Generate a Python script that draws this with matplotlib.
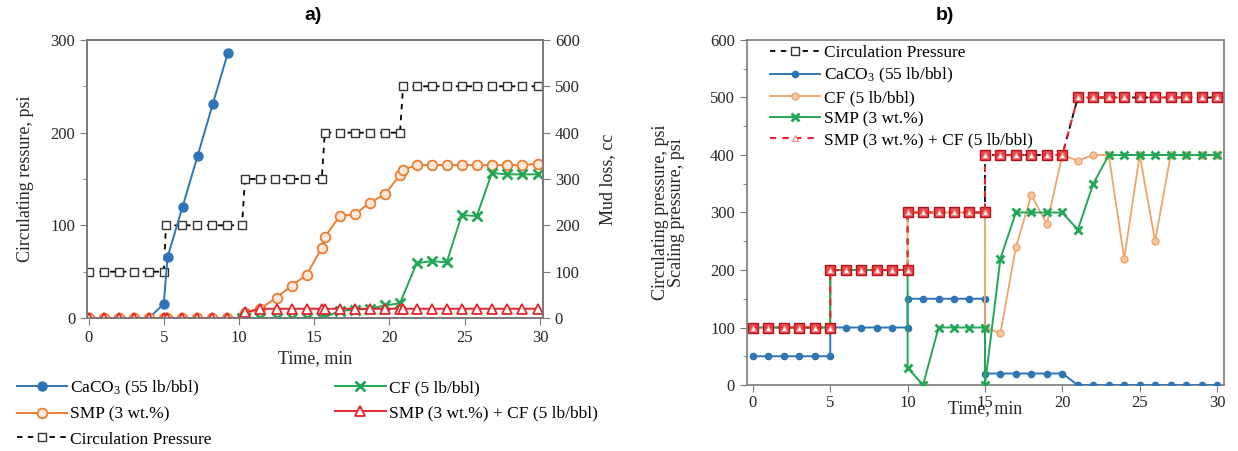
import matplotlib.pyplot as plt
from matplotlib.ticker import MultipleLocator

plt.rcParams['font.family'] = ['Liberation Serif', 'DejaVu Serif']
plt.rcParams['mathtext.fontset'] = 'custom'
plt.rcParams['mathtext.rm'] = 'Liberation Serif'

# ---------------- panel a) data ----------------
# circulation pressure, psi (left axis)
t_circ_a = [0, 1, 2, 3, 4, 5, 5.15, 6.2, 7.2, 8.2, 9.2, 10.2, 10.4, 11.4, 12.4, 13.4, 14.4, 15.5,
            15.7, 16.7, 17.7, 18.7, 19.7, 20.7, 20.9, 21.8, 22.8, 23.8, 24.8, 25.8, 26.8, 27.8, 28.8, 29.9]
p_circ_a = [50] * 6 + [100] * 6 + [150] * 6 + [200] * 6 + [250] * 10

# mud loss, cc (right axis)
t_caco3_a = [0, 1, 2, 3, 4, 5.0, 5.25, 6.25, 7.25, 8.25, 9.25]
loss_caco3_a = [0, 0, 0, 0, 0, 30, 131, 240, 350, 461, 571]

t_grid_a = [0, 1, 2, 3, 4, 5, 5.2, 6.2, 7.2, 8.2, 9.2, 10.2, 10.4, 11.4, 12.5, 13.5, 14.5, 15.5,
            15.7, 16.7, 17.7, 18.7, 19.7, 20.7, 20.9, 21.8, 22.8, 23.8, 24.8, 25.8, 26.8, 27.8, 28.8, 29.9]
loss_smp_a = [0] * 12 + [10, 20, 44, 70, 93, 152, 175, 220, 224, 249, 267, 309, 320] + [330] * 8 + [333]
loss_mix_a = [0] * 12 + [12] + [20] * 21

t_cf_a = [10.2, 10.4, 11.4, 12.5, 13.5, 14.5, 15.5, 15.7, 16.7, 17.7, 18.7, 19.7, 20.7,
          21.8, 22.8, 23.8, 24.8, 25.8, 26.8, 27.8, 28.8, 29.9]
loss_cf_a = [0, 0, 0, 0, 0, 0, 0, 2, 15, 18, 20, 27, 32, 118, 123, 120, 222, 220, 313, 310, 310, 310]

# ---------------- panel b) data ----------------
t_b = [0, 1, 2, 3, 4, 5, 5, 6, 7, 8, 9, 10, 10, 11, 12, 13, 14, 15, 15, 16, 17, 18, 19, 20,
       21, 22, 23, 24, 25, 26, 27, 28, 29, 30]
p_circ_b = [100] * 6 + [200] * 6 + [300] * 6 + [400] * 6 + [500] * 10
p_mix_b = [100] * 6 + [200] * 6 + [300] * 6 + [400] * 6 + [500] * 10
p_caco3_b = [50] * 6 + [100] * 6 + [150] * 6 + [20] * 6 + [0] * 10

t_cf_b = [0, 1, 2, 3, 4, 5, 5, 6, 7, 8, 9, 10, 10, 11, 12, 13, 14, 15, 15, 16, 17, 18, 19, 20,
          21, 22, 23, 24, 25, 26, 27, 28, 29, 30]
p_cf_b = [100] * 6 + [200] * 6 + [300] * 6 + [100, 90, 240, 330, 280, 400, 390, 400, 400, 220,
                                               400, 250, 400, 400, 400, 400]

t_smp_b = [0, 1, 2, 3, 4, 5, 5, 6, 7, 8, 9, 10, 10, 11, 12, 13, 14, 15, 15, 16, 17, 18, 19, 20,
           21, 22, 23, 24, 25, 26, 27, 28, 29, 30]
p_smp_b = [100] * 6 + [200] * 6 + [30, 0, 100, 100, 100, 100, 0, 220, 300, 300, 300, 300,
                                   270, 350] + [400] * 8

BLUE = '#2e75b6'
ORANGE = '#ed7d31'
GREEN = '#23a656'
RED = '#e3262b'
SPINE = '#7a7a7a'
TXT = '#262626'

lab_caco3 = r'CaCO$\mathregular{_3}$ (55 lb/bbl)'

fig = plt.figure(figsize=(12.38, 4.51), dpi=100)

# ================= a) =================
ax_a = fig.add_axes([87 / 1238, 1 - 318 / 451, 456 / 1238, 278 / 451])
ax_m = ax_a.twinx()

l_circ, = ax_a.plot(t_circ_a, p_circ_a, color='black', ls=(0, (3, 3)), lw=1.3, marker='s', ms=6,
                    mfc='white', mec='#333333', mew=1.0, label='Circulation Pressure')

l_caco3, = ax_m.plot(t_caco3_a, loss_caco3_a, color=BLUE, lw=1.4, marker='o', ms=6.5,
                     label=lab_caco3)
l_smp, = ax_m.plot(t_grid_a, loss_smp_a, color=ORANGE, lw=1.4, marker='o', ms=7,
                   mfc='#fde9d9', mec=ORANGE, mew=1.3, label='SMP (3 wt.%)')
l_cf, = ax_m.plot(t_cf_a, loss_cf_a, color=GREEN, lw=1.4, marker='x', ms=7, mew=2.0,
                  label='CF (5 lb/bbl)')
l_mix, = ax_m.plot(t_grid_a, loss_mix_a, color=RED, lw=1.4, marker='^', ms=6.5,
                   mfc='white', mec=RED, mew=1.3, label='SMP (3 wt.%) + CF (5 lb/bbl)')

ax_a.set_xlim(-0.1, 30.2)
ax_a.set_ylim(0, 300)
ax_m.set_ylim(0, 600)
ax_a.xaxis.set_major_locator(MultipleLocator(5))
ax_a.yaxis.set_major_locator(MultipleLocator(100))
ax_a.yaxis.set_minor_locator(MultipleLocator(50))
ax_m.yaxis.set_major_locator(MultipleLocator(100))

for ax in (ax_a, ax_m):
    for s in ax.spines.values():
        s.set_color(SPINE)
        s.set_linewidth(1.2)
    ax.tick_params(which='both', direction='out', colors=SPINE, labelcolor=TXT, labelsize=12)
    ax.tick_params(which='major', length=5)
    ax.tick_params(which='minor', length=3)

ax_a.set_xlabel('Time, min', fontsize=13, color=TXT, labelpad=3)
ax_a.set_ylabel('Circulating ressure, psi', fontsize=13, color=TXT, labelpad=12)
ax_m.set_ylabel('Mud loss, cc', fontsize=13, color=TXT, labelpad=14)

fig.text(313 / 1238, 1 - 16 / 451, 'a)', family='Liberation Sans', weight='bold', fontsize=14,
         ha='center', va='center')

fig.legend([l_caco3, l_smp, l_circ, l_cf, l_mix],
           [lab_caco3, 'SMP (3 wt.%)', 'Circulation Pressure', 'CF (5 lb/bbl)',
            'SMP (3 wt.%) + CF (5 lb/bbl)'],
           ncol=2, loc='upper left', bbox_to_anchor=(8 / 1238, 1 - 370 / 451),
           frameon=False, fontsize=12.5, handlelength=2.9, handletextpad=0.2,
           labelspacing=0.5, columnspacing=7.1, borderpad=0)

# ================= b) =================
ax_b = fig.add_axes([746.7 / 1238, 1 - 385 / 451, 477.3 / 1238, 345 / 451])

b_circ, = ax_b.plot(t_b, p_circ_b, color='black', ls=(0, (3, 3)), lw=1.3, marker='s', ms=6,
                    mfc='white', mec='#333333', mew=1.0, label='Circulation Pressure', zorder=2)
b_caco3, = ax_b.plot(t_b, p_caco3_b, color=BLUE, lw=1.4, marker='o', ms=4.5, label=lab_caco3,
                     zorder=3)
b_cf, = ax_b.plot(t_cf_b, p_cf_b, color='#f0a36a', lw=1.3, marker='o', ms=5, mfc='#f7c9a3',
                  mec='#f0a36a', label='CF (5 lb/bbl)', zorder=3)
b_smp, = ax_b.plot(t_smp_b, p_smp_b, color=GREEN, lw=1.4, marker='x', ms=5.5, mew=2.0,
                   label='SMP (3 wt.%)', zorder=4)
ax_b.plot(t_b, p_mix_b, color=RED, ls='none', marker='s', ms=7, mfc='#e8474c', mec='#b3141a',
          mew=1.0, zorder=5)
b_mix, = ax_b.plot(t_b, p_mix_b, color=RED, ls=(0, (3, 3)), lw=1.5, marker='^', ms=4,
                   mfc='white', mec='#f08080', mew=0.8, label='SMP (3 wt.%) + CF (5 lb/bbl)',
                   zorder=6)

ax_b.set_xlim(-0.4, 30.45)
ax_b.set_ylim(0, 600)
ax_b.xaxis.set_major_locator(MultipleLocator(5))
ax_b.yaxis.set_major_locator(MultipleLocator(100))
ax_b.yaxis.set_minor_locator(MultipleLocator(50))
for s in ax_b.spines.values():
    s.set_color(SPINE)
    s.set_linewidth(1.2)
ax_b.tick_params(which='both', direction='out', colors=SPINE, labelcolor=TXT, labelsize=12)
ax_b.tick_params(which='major', length=5)
ax_b.tick_params(which='minor', length=3)
ax_b.tick_params(axis='x', pad=2)

ax_b.set_xlabel('Time, min', fontsize=13, color=TXT, labelpad=-8)
ax_b.set_ylabel('Circulating pressure, psi\nScaling pressure, psi', fontsize=13, color=TXT,
                labelpad=18, linespacing=0.9)

fig.text(945 / 1238, 1 - 16 / 451, 'b)', family='Liberation Sans', weight='bold', fontsize=14,
         ha='center', va='center')

ax_b.legend([b_circ, b_caco3, b_cf, b_smp, b_mix],
            ['Circulation Pressure', lab_caco3, 'CF (5 lb/bbl)', 'SMP (3 wt.%)',
             'SMP (3 wt.%) + CF (5 lb/bbl)'],
            loc='upper left', bbox_to_anchor=(0.03, 1.01), frameon=False, fontsize=12.5,
            handlelength=2.9, handletextpad=0.2, labelspacing=0.28, borderpad=0)

fig.savefig('out.png', dpi=100)
